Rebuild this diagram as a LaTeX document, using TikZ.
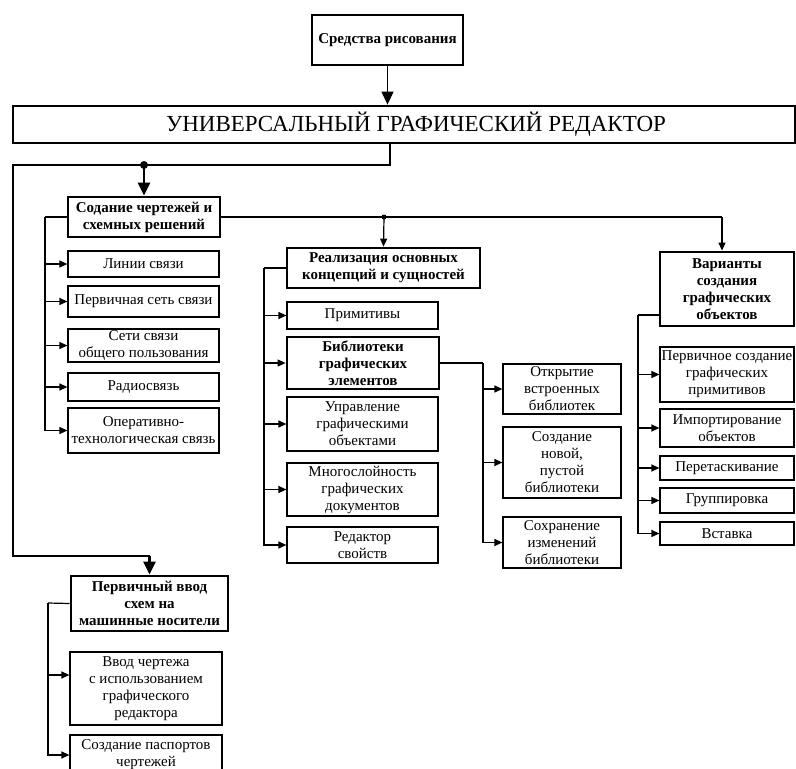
\documentclass[tikz,border=0pt]{standalone}
\usepackage{fontspec}
\setmainfont{Liberation Serif}
\usetikzlibrary{arrows.meta}
\begin{document}
\begin{tikzpicture}[x=1pt,y=-1pt,
  box/.style={draw, line width=1.2pt, inner sep=0pt, align=center,
    font=\fontsize{15}{17}\selectfont},
  hbox/.style={box, line width=2.8pt, font=\fontsize{15}{17}\selectfont\bfseries},
  conn/.style={line width=1.2pt},
  arr/.style={conn, -{Triangle[length=8pt,width=7pt]}},
  trunk/.style={line width=2pt},
  bigarr/.style={line width=2.4pt, -{Triangle[length=13pt,width=12pt]}},
  dot/.style={circle, fill, inner sep=0pt, minimum size=#1}
]
\useasboundingbox (0,0) rectangle (796,769);
\clip (0,0) rectangle (796,769);

% --- top level ---
\node[hbox, minimum width=151pt, minimum height=50pt] (sredstva) at (387.5,40) {Средства рисования};
\node[box, line width=2.8pt, minimum width=782pt, minimum height=37pt,
      font=\fontsize{23}{25}\selectfont] (univ) at (404,124.5) {\hspace*{24pt}УНИВЕРСАЛЬНЫЙ ГРАФИЧЕСКИЙ РЕДАКТОР};
\draw[conn, -{Triangle[length=13pt,width=12pt]}] (sredstva.south) -- (sredstva.south |- univ.north);

% --- first branch: drawings and schematic solutions ---
\node[hbox, minimum width=152pt, minimum height=40pt] (sod) at (144,217) {Содание чертежей и\\схемных решений};
\node[box, minimum width=151pt, minimum height=26pt] (l1) at (143.5,264) {Линии связи};
\node[box, minimum width=151pt, minimum height=31pt] (l2) at (143.5,301.5) {Первичная сеть связи};
\node[box, minimum width=151pt, minimum height=33pt] (l3) at (143.5,345.5) {Сети связи\\общего пользования};
\node[box, minimum width=151pt, minimum height=28pt] (l4) at (143.5,387) {Радиосвязь};
\node[box, minimum width=151pt, minimum height=45pt] (l5) at (143.5,430.5) {Оперативно-\\технологическая связь};

% --- second branch: concepts ---
\node[hbox, minimum width=193pt, minimum height=40pt] (real) at (383.5,268) {Реализация основных\\концепций и сущностей};
\node[box, minimum width=151pt, minimum height=27pt] (m1) at (362.5,315.5) {Примитивы};
\node[hbox, minimum width=152pt, minimum height=52pt] (m2) at (363,363) {Библиотеки\\графических\\элементов};
\node[box, minimum width=151pt, minimum height=54pt] (m3) at (362.5,424) {Управление\\графическими\\объектами};
\node[box, minimum width=151pt, minimum height=53pt] (m4) at (362.5,489.5) {Многослойность\\графических\\документов};
\node[box, minimum width=151pt, minimum height=36pt] (m5) at (362.5,545) {Редактор\\свойств};

% --- libraries ---
\node[box, minimum width=118pt, minimum height=50pt] (b1) at (562,389) {Открытие\\встроенных\\библиотек};
\node[box, minimum width=118pt, minimum height=71pt] (b2) at (562,462.5) {Создание\\новой,\\пустой\\библиотеки};
\node[box, minimum width=118pt, minimum height=51pt] (b3) at (562,542.5) {Сохранение\\изменений\\библиотеки};

% --- third branch: ways of creating objects ---
\node[hbox, minimum width=134pt, minimum height=74pt] (var) at (727,289) {Варианты\\создания\\графических\\объектов};
\node[box, minimum width=134pt, minimum height=55pt] (r1) at (727,374.5) {Первичное создание\\графических\\примитивов};
\node[box, minimum width=134pt, minimum height=38pt] (r2) at (727,428) {Импортирование\\объектов};
\node[box, minimum width=134pt, minimum height=24pt] (r3) at (727,468) {Перетаскивание};
\node[box, minimum width=134pt, minimum height=25pt] (r4) at (727,500.5) {Группировка};
\node[box, minimum width=134pt, minimum height=23pt] (r5) at (727,533.5) {Вставка};

% --- fourth branch: input to machine media ---
\node[hbox, minimum width=157pt, minimum height=55pt] (pv) at (149.5,603.5) {Первичный ввод\\схем на\\машинные носители};
\node[box, minimum width=152pt, minimum height=73pt] (v1) at (146,688.5) {Ввод чертежа\\с использованием\\графического\\редактора};
\node[box, minimum width=152pt, minimum height=40pt] (v2) at (146,755) {Создание паспортов\\чертежей};

% --- main distribution lines ---
\coordinate (jU) at (390,165);
\coordinate (jL) at (144,165);
\coordinate (jB) at (13,556);
\coordinate (jR) at (722,217);
\coordinate (jM) at (384,217);
\draw[trunk] (univ.south -| jU) -- (jU) -- (13,165) -- (jB) -- (jB -| pv.north);
\draw[bigarr] (jB -| pv.north) -- (pv.north);
\draw[bigarr] (jL) -- (sod.north);
\node[dot=8pt] at (jL) {};

\draw[conn] (sod.east) -- (jR);
\draw[arr] (jR) -- (jR |- var.north);
\draw[arr] (jM) -- (real.north);
\node[dot=5pt] at (jM) {};

% --- branch trunks ---
\coordinate (tS) at (45,217);
\draw[conn] (sod.west) -- (tS);
\foreach \c in {l1,l2,l3,l4,l5} \draw[arr] (tS) |- (\c.west);

\coordinate (tR) at (264,268);
\draw[conn] (real.west) -- (tR);
\foreach \c in {m1,m2,m3,m4,m5} \draw[arr] (tR) |- (\c.west);

\coordinate (tB) at (483,363);
\draw[conn] (m2.east) -- (tB);
\foreach \c in {b1,b2,b3} \draw[arr] (tB) |- (\c.west);

\coordinate (tV) at (638,315);
\draw[conn] (tV -| var.west) -- (tV);
\foreach \c in {r1,r2,r3,r4,r5} \draw[arr] (tV) |- (\c.west);

\coordinate (tP) at (48,603);
\draw[conn] (pv.west) -- (tP);
\draw[arr] (tP) |- (v1.west |- 0,675);
\draw[arr] (tP) |- (v2.west);
\end{tikzpicture}
\end{document}
